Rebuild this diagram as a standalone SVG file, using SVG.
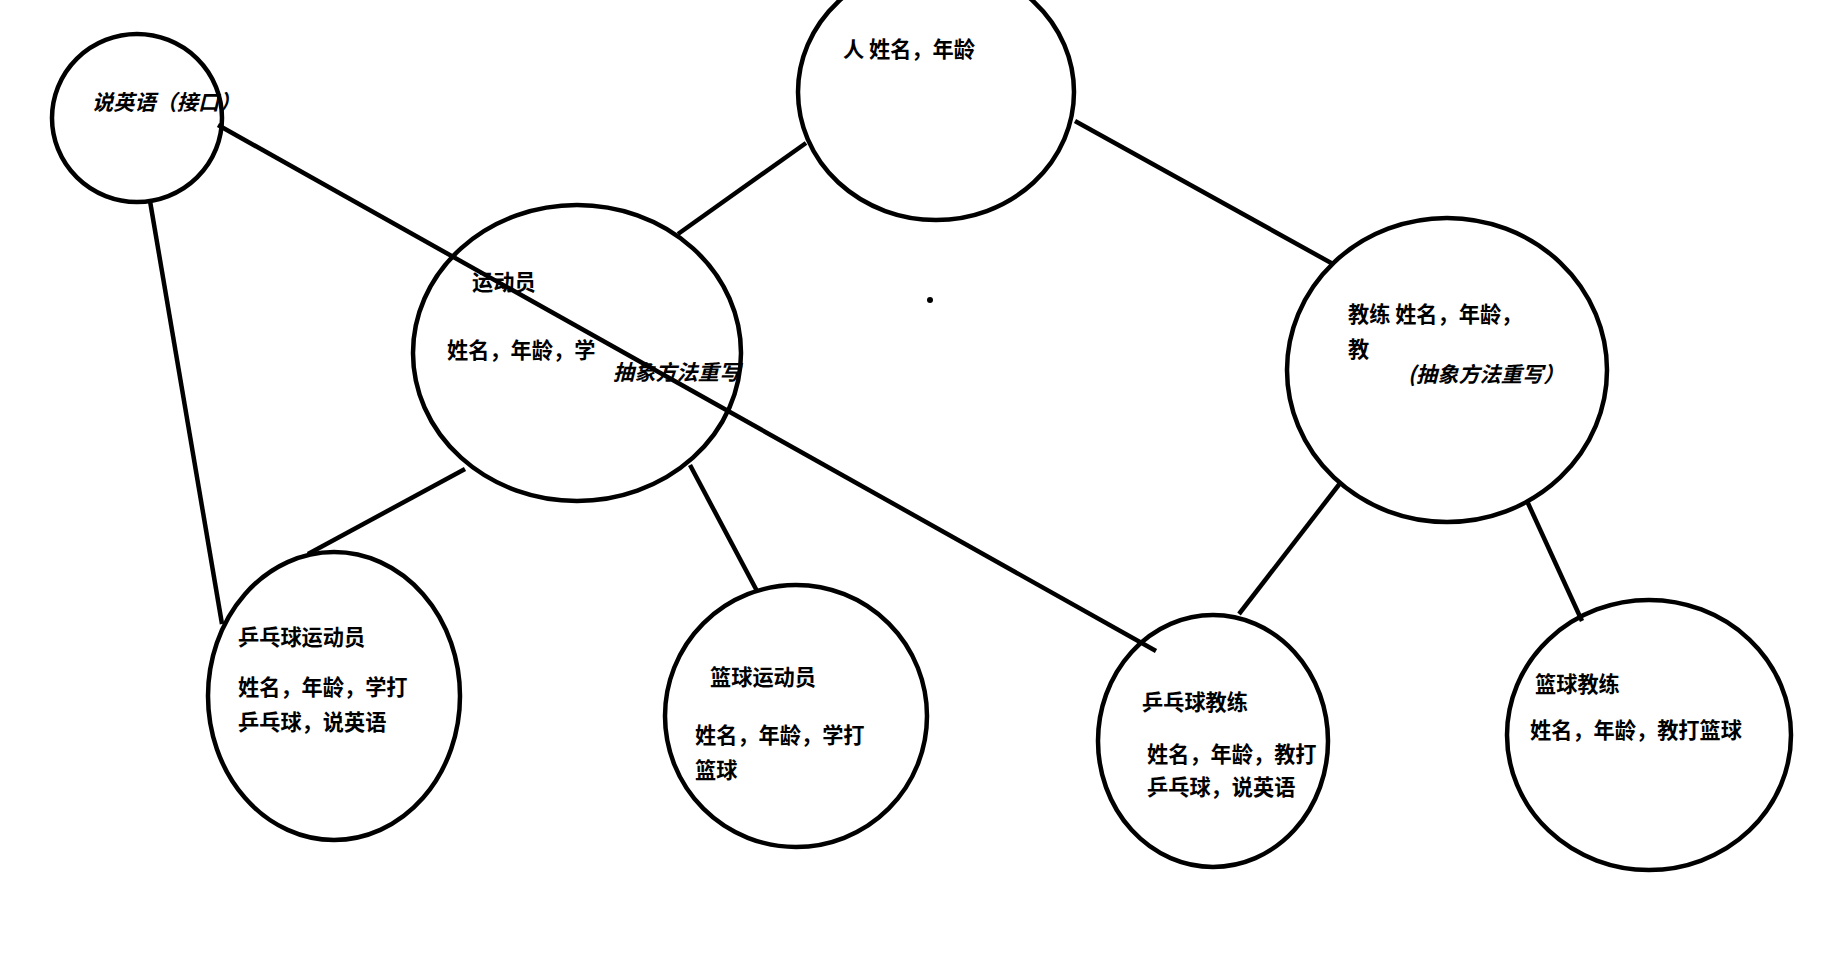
<svg xmlns="http://www.w3.org/2000/svg" width="1824" height="971" viewBox="0 0 1824 971">
<style>
.n{fill:none;stroke:#000;stroke-width:4.5}
.c line{stroke:#000;stroke-width:4.5;stroke-linecap:butt}
text{font-family:"Noto Sans CJK SC","Noto Sans",sans-serif;font-size:21.2px;font-weight:bold;fill:#000}
.i{font-style:italic}
</style>
<rect width="1824" height="971" fill="#fff"/>
<g id="connectors" class="c">
<line x1="150" y1="201" x2="222" y2="624"/>
<line x1="218" y1="125" x2="1156" y2="651"/>
<line x1="806" y1="143" x2="678" y2="234"/>
<line x1="1075" y1="121" x2="1333" y2="264"/>
<line x1="465" y1="469" x2="308" y2="554"/>
<line x1="690" y1="465" x2="757" y2="591"/>
<line x1="1341" y1="482" x2="1239" y2="614"/>
<line x1="1527" y1="501" x2="1582" y2="621"/>
</g>
<g id="n-speak">
<ellipse class="n" cx="137" cy="118" rx="85" ry="84"/>
<text class="i" x="92" y="110">说英语（接口）</text>
</g>
<g id="n-person">
<ellipse class="n" cx="936" cy="92" rx="138" ry="128"/>
<text x="843" y="57">人 姓名，年龄</text>
</g>
<g id="n-athlete">
<ellipse class="n" cx="577" cy="353" rx="164" ry="148"/>
<text x="472" y="290">运动员</text>
<text x="447" y="358">姓名，年龄，学</text>
<text class="i" x="613" y="380">抽象方法重写</text>
</g>
<g id="n-coach">
<ellipse class="n" cx="1447" cy="370" rx="160" ry="152"/>
<text x="1348" y="322">教练 姓名，年龄，</text>
<text x="1348" y="357">教</text>
<text class="i" x="1408" y="382">(抽象方法重写）</text>
</g>
<g id="n-pp-athlete">
<ellipse class="n" cx="334" cy="696" rx="126" ry="144"/>
<text x="238" y="645">乒乓球运动员</text>
<text x="238" y="695">姓名，年龄，学打</text>
<text x="238" y="730">乒乓球，说英语</text>
</g>
<g id="n-bb-athlete">
<ellipse class="n" cx="796" cy="716" rx="131" ry="131"/>
<text x="710" y="685">篮球运动员</text>
<text x="695" y="743">姓名，年龄，学打</text>
<text x="695" y="778">篮球</text>
</g>
<g id="n-pp-coach">
<ellipse class="n" cx="1213" cy="741" rx="115" ry="126"/>
<text x="1142" y="710">乒乓球教练</text>
<text x="1147" y="762">姓名，年龄，教打</text>
<text x="1147" y="795">乒乓球，说英语</text>
</g>
<g id="n-bb-coach">
<ellipse class="n" cx="1649" cy="735" rx="142" ry="135"/>
<text x="1535" y="692">篮球教练</text>
<text x="1530" y="738">姓名，年龄，教打篮球</text>
</g>
<circle cx="930" cy="300" r="3" fill="#000"/>
</svg>
